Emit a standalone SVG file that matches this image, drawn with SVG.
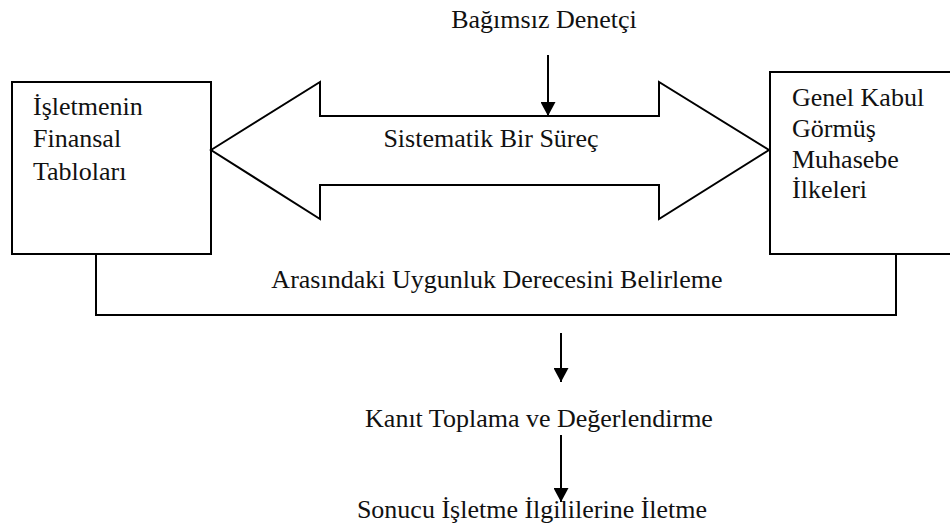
<svg xmlns="http://www.w3.org/2000/svg" width="950" height="529" viewBox="0 0 950 529" font-family="'Liberation Serif', 'DejaVu Serif', serif">
<defs>
<style>
.box{fill:none;stroke:#000;stroke-width:2}
.ln{fill:none;stroke:#000;stroke-width:2}
text{font-family:'Liberation Serif', 'DejaVu Serif', serif;font-size:26px;fill:#111}
.c{text-anchor:middle}
</style>
<marker id="ah" viewBox="0 0 14 15" refX="14" refY="7.5" markerWidth="14" markerHeight="15" markerUnits="userSpaceOnUse" orient="auto">
<path d="M0,0 L14,7.5 L0,15 Z" fill="#000"/>
</marker>
</defs>
<rect width="950" height="529" fill="#fff"/>
<g id="auditor"><text class="c" x="544" y="28">Bağımsız Denetçi</text></g>
<g id="left-box">
<rect class="box" x="12" y="82" width="199" height="172"/>
<text x="33" y="115">İşletmenin</text>
<text x="33" y="147">Finansal</text>
<text x="33" y="180">Tabloları</text>
</g>
<g id="right-box">
<rect class="box" x="770" y="72" width="190" height="182"/>
<text x="792" y="106">Genel Kabul</text>
<text x="792" y="137">Görmüş</text>
<text x="792" y="168">Muhasebe</text>
<text x="792" y="198">İlkeleri</text>
</g>
<g id="process">
<path class="box" d="M211,150 L320,82 L320,116 L659,116 L659,82 L769,150 L659,219 L659,185 L320,185 L320,219 Z"/>
<text class="c" x="491" y="147">Sistematik Bir Süreç</text>
</g>
<g id="conformity">
<path class="box" d="M96,254 L96,315 L896,315 L896,254"/>
<text class="c" x="497" y="288">Arasındaki Uygunluk Derecesini Belirleme</text>
</g>
<g id="evidence"><text class="c" x="539" y="427">Kanıt Toplama ve Değerlendirme</text></g>
<g id="communicate"><text class="c" x="532" y="518">Sonucu İşletme İlgililerine İletme</text></g>
<g id="connectors">
<line class="ln" x1="548" y1="55" x2="548" y2="116" marker-end="url(#ah)"/>
<line class="ln" x1="561" y1="333" x2="561" y2="382" marker-end="url(#ah)"/>
<line class="ln" x1="561" y1="435" x2="561" y2="502" marker-end="url(#ah)"/>
</g>
</svg>
